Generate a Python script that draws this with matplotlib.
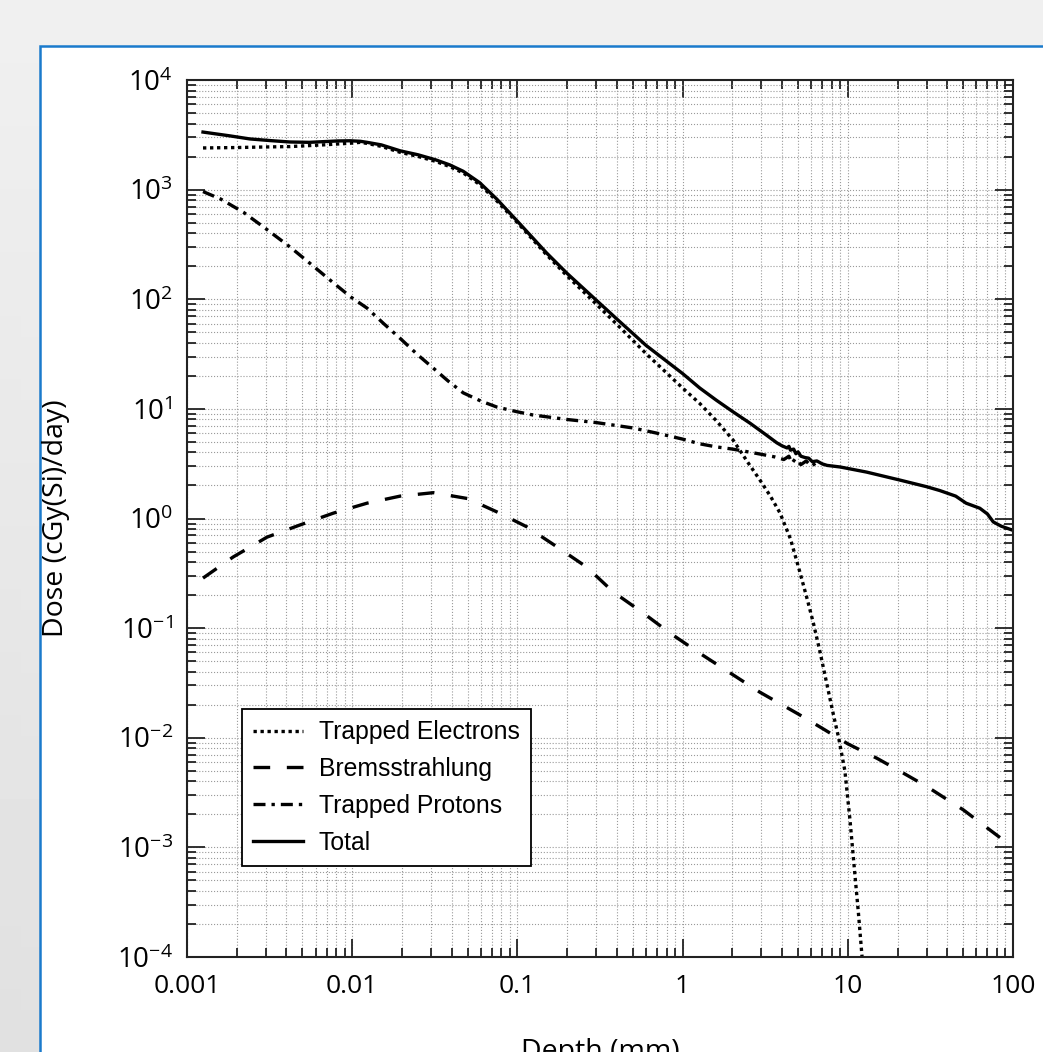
import numpy as np
import matplotlib
matplotlib.use('Agg')
import matplotlib.pyplot as plt
from matplotlib import ticker
from matplotlib.patches import Rectangle

plt.rcParams['font.family'] = ['Open Sans', 'DejaVu Sans']
plt.rcParams['mathtext.default'] = 'regular'

# depth (mm) and dose (cGy(Si)/day)
depth_e = [0.00125, 0.002, 0.003, 0.0042, 0.0067, 0.0097, 0.0112, 0.0123, 0.015, 0.0195,
           0.025, 0.032, 0.039, 0.047, 0.059, 0.075, 0.1, 0.15, 0.2, 0.28, 0.4, 0.6, 1.0,
           1.27, 1.6, 2.02, 2.5, 2.94, 3.4, 3.89, 4.5, 5.14, 5.7, 6.2, 6.8, 7.5, 8.2, 8.8,
           9.6, 10.3, 11.0, 11.6, 12.2]
dose_e = [2400, 2420, 2450, 2470, 2560, 2650, 2700, 2640, 2480, 2190,
          2010, 1810, 1620, 1420, 1115, 790, 500, 255, 163, 100, 59, 32, 15.5,
          11.2, 7.8, 5.2, 3.2, 2.24, 1.6, 1.12, 0.65, 0.32, 0.18, 0.11, 0.06, 0.03, 0.016,
          0.01, 0.005, 0.0018, 0.0006, 0.00025, 0.0001]

depth_b = [0.00125, 0.0019, 0.00305, 0.0048, 0.0077, 0.0123, 0.0195, 0.031, 0.05, 0.076,
           0.114, 0.174, 0.263, 0.38, 0.575, 0.84, 1.27, 1.94, 2.94, 5, 7, 10, 15, 20, 30,
           50, 70, 100]
dose_b = [0.286, 0.445, 0.676, 0.87, 1.12, 1.38, 1.6, 1.72, 1.52, 1.14,
          0.84, 0.55, 0.36, 0.214, 0.138, 0.09, 0.059, 0.039, 0.026, 0.0165, 0.0122, 0.0088,
          0.0065, 0.0051, 0.0036, 0.0022, 0.0015, 0.001]

depth_p = [0.00125, 0.0016, 0.0022, 0.003, 0.0042, 0.0055, 0.0077, 0.0098, 0.0123, 0.0155,
           0.0195, 0.025, 0.031, 0.038, 0.047, 0.06, 0.075, 0.1, 0.124, 0.2, 0.3, 0.5, 0.7,
           1.0, 1.27, 1.6, 2.0, 2.5, 3.0, 3.6, 4.1, 4.4, 4.6, 4.8, 5.2, 5.6, 6.0, 6.4, 6.7]
dose_p = [960, 820, 620, 440, 300, 215, 141, 105, 83, 60,
          44, 31, 23.5, 18, 14, 11.8, 10.4, 9.4, 8.8, 8.0, 7.5, 6.7, 6.0,
          5.3, 4.8, 4.5, 4.3, 4.05, 3.85, 3.65, 3.45, 3.7, 3.2, 3.5, 3.1, 3.35, 3.0, 3.2, 3.1]

depth_t = [0.00125, 0.0018, 0.0024, 0.0032, 0.0042, 0.0055, 0.0067, 0.0082, 0.0097, 0.0112,
           0.0123, 0.015, 0.0195, 0.025, 0.032, 0.039, 0.047, 0.059, 0.075, 0.1, 0.15, 0.2,
           0.28, 0.4, 0.6, 1.0, 1.27, 1.6, 2.02, 2.56, 3.2, 3.72, 4.0, 4.29, 4.4, 4.5, 4.7,
           4.85, 5.0, 5.2, 5.5, 5.8, 6.1, 6.5, 7.0, 7.5, 9.0, 13, 20.7, 30, 36, 45, 52, 63,
           70, 76, 85, 100]
dose_t = [3350, 3100, 2900, 2800, 2720, 2700, 2740, 2780, 2790, 2760,
          2700, 2560, 2260, 2080, 1870, 1680, 1470, 1160, 820, 515, 265, 172,
          108, 66, 38, 21, 15.5, 12, 9.4, 7.4, 5.8, 4.9, 4.6, 4.4, 4.55, 4.2, 4.3,
          3.9, 4.05, 3.7, 3.6, 3.55, 3.3, 3.35, 3.15, 3.05, 2.95, 2.65, 2.24, 1.95, 1.8, 1.6,
          1.38, 1.24, 1.1, 0.93, 0.85, 0.78]

fig = plt.figure(figsize=(10.43, 10.52), dpi=100)

# grey page behind the white panel
bg = fig.add_axes([0, 0, 1, 1], zorder=-2)
yy, xx = np.mgrid[0:1:50j, 0:1:50j]
grad = 0.94 - 0.06 * yy * (1 - xx)
bg.imshow(grad, cmap='gray', vmin=0, vmax=1, aspect='auto', extent=[0, 1, 0, 1], origin='upper')
bg.axis('off')
fig.patches.append(Rectangle((40 / 1043, -0.1), 1.2, 1.1 - 46 / 1052, transform=fig.transFigure,
                             facecolor='white', edgecolor='#1a7acc', lw=1.8, zorder=-1))

ax = fig.add_axes([187 / 1043, 1 - 957 / 1052, 826 / 1043, 877 / 1052])
ax.set_xscale('log')
ax.set_yscale('log')
ax.set_xlim(0.001, 100)
ax.set_ylim(1e-4, 1e4)

lw = 2.4
ax.plot(depth_e, dose_e, color='black', lw=lw, ls=(0, (1, 1.1)), label='Trapped Electrons')
ax.plot(depth_b, dose_b, color='black', lw=lw, ls=(0, (5, 5)), label='Bremsstrahlung')
ax.plot(depth_p, dose_p, color='black', lw=lw, ls=(0, (3.6, 1.8, 1, 1.8)), label='Trapped Protons')
ax.plot(depth_t, dose_t, color='black', lw=lw, ls='-', label='Total')

ax.xaxis.set_major_locator(ticker.LogLocator(base=10, numticks=10))
ax.xaxis.set_minor_locator(ticker.LogLocator(base=10, subs=np.arange(2, 10), numticks=20))
ax.yaxis.set_major_locator(ticker.LogLocator(base=10, numticks=12))
ax.yaxis.set_minor_locator(ticker.LogLocator(base=10, subs=np.arange(2, 10), numticks=20))
ax.xaxis.set_major_formatter(ticker.FuncFormatter(lambda v, p: f'{v:g}'))
ax.yaxis.set_major_formatter(ticker.LogFormatterMathtext())
ax.xaxis.set_minor_formatter(ticker.NullFormatter())
ax.yaxis.set_minor_formatter(ticker.NullFormatter())

ax.tick_params(which='both', direction='in', top=True, right=True, width=1.3, color='#222222')
ax.tick_params(which='major', length=13)
ax.tick_params(which='minor', length=6.5)
ax.tick_params(axis='x', which='major', pad=12, labelsize=19)
ax.tick_params(axis='y', which='major', pad=10, labelsize=20)
for s in ax.spines.values():
    s.set_linewidth(1.5)
    s.set_color('#222222')

ax.grid(True, which='both', ls=':', color='#9a9a9a', lw=0.8)
ax.set_axisbelow(True)

ax.set_ylabel('Dose (cGy(Si)/day)', fontsize=20.5)
ax.yaxis.set_label_coords(-0.142, 0.5)
ax.set_xlabel('Depth (mm)', fontsize=20.5, va='top')
ax.xaxis.set_label_coords(0.5, -0.092)

leg = ax.legend(loc='lower left', bbox_to_anchor=(0.0666, 0.1038), borderaxespad=0,
                frameon=True, fancybox=False, edgecolor='black', framealpha=1,
                handlelength=2.0, handletextpad=0.65, labelspacing=0.52, borderpad=0.45,
                prop={'family': 'Liberation Sans', 'size': 17.8})
leg.get_frame().set_linewidth(1.3)

fig.savefig('out.png', dpi=100)
